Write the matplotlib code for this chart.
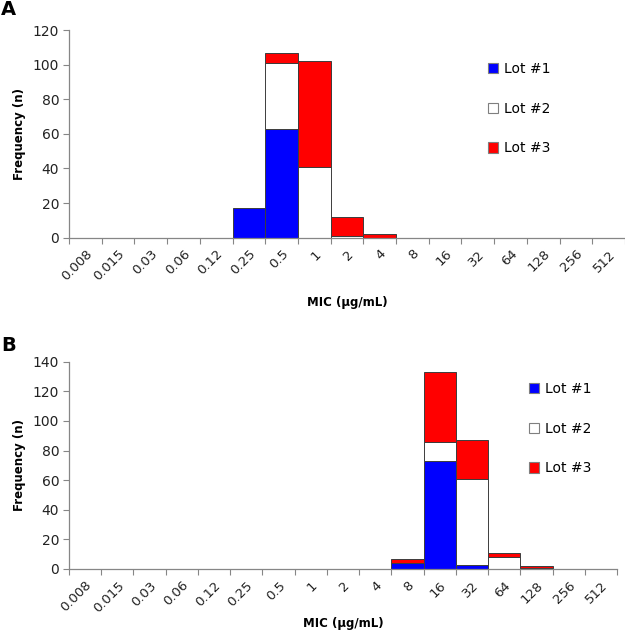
import matplotlib
matplotlib.use("Agg")
import matplotlib.pyplot as plt
from matplotlib.patches import Patch
import numpy as np

# ---- data ----
mic = ["0.008", "0.015", "0.03", "0.06", "0.12", "0.25", "0.5", "1",
       "2", "4", "8", "16", "32", "64", "128", "256", "512"]
lots = ["Lot #1", "Lot #2", "Lot #3"]

# panel A
a_lot1 = [0, 0, 0, 0, 0, 17, 63, 0, 0, 0, 0, 0, 0, 0, 0, 0, 0]
a_lot2 = [0, 0, 0, 0, 0, 0, 38, 41, 1, 0, 0, 0, 0, 0, 0, 0, 0]
a_lot3 = [0, 0, 0, 0, 0, 0, 6, 61, 11, 2, 0, 0, 0, 0, 0, 0, 0]

# panel B
b_lot1 = [0, 0, 0, 0, 0, 0, 0, 0, 0, 0, 4, 73, 3, 0, 0, 0, 0]
b_lot2 = [0, 0, 0, 0, 0, 0, 0, 0, 0, 0, 0, 13, 58, 8, 1, 0, 0]
b_lot3 = [0, 0, 0, 0, 0, 0, 0, 0, 0, 0, 3, 47, 26, 3, 1, 0, 0]

colors = ["#0000ff", "#ffffff", "#ff0000"]
EDGE = "#3c3c3c"
AXIS = "#868686"

fig = plt.figure(figsize=(6.25, 6.36), dpi=100)
fig.patch.set_facecolor("white")


def panel(rect, series, ymax, letter, letter_y, leg_xy, xpad):
    ax = fig.add_axes(rect)
    x = np.arange(len(mic))
    bottom = np.zeros(len(mic))
    for vals, c in zip(series, colors):
        vals = np.array(vals, dtype=float)
        mask = vals > 0
        ax.bar(x[mask], vals[mask], width=1.0, bottom=bottom[mask], color=c,
               edgecolor=EDGE, linewidth=0.7, zorder=2)
        bottom += vals
    ax.set_xlim(-0.5, len(mic) - 0.5)
    ax.set_ylim(0, ymax)
    ax.set_yticks(np.arange(0, ymax + 1, 20))
    ax.tick_params(axis="y", direction="out", length=4, width=0.8, color=AXIS,
                   labelsize=10, labelcolor="#222222", pad=3)
    # category boundaries carry the tick marks, centres carry the labels
    ax.set_xticks(np.arange(-0.5, len(mic), 1.0))
    ax.set_xticklabels([])
    ax.set_xticks(x, minor=True)
    ax.set_xticklabels(mic, minor=True, rotation=45, ha="right",
                       va="top", rotation_mode="anchor")
    ax.tick_params(axis="x", which="major", direction="out", length=4,
                   width=0.8, color=AXIS)
    ax.tick_params(axis="x", which="minor", length=0, labelsize=9.5,
                   labelcolor="#222222", pad=7)
    for sp in ["top", "right"]:
        ax.spines[sp].set_visible(False)
    for sp in ["left", "bottom"]:
        ax.spines[sp].set_color(AXIS)
        ax.spines[sp].set_linewidth(0.9)
    ax.set_ylabel("Frequency (n)", fontsize=8.5, fontweight="bold", labelpad=5)
    ax.set_xlabel("MIC (µg/mL)", fontsize=8.5, fontweight="bold", labelpad=xpad)
    fig.text(0.002, letter_y, letter, fontsize=14, fontweight="bold",
             va="top", ha="left")
    handles = [Patch(facecolor=c, edgecolor="#7f7f7f", linewidth=0.8)
               for c in colors]
    fig.legend(handles, lots, loc="upper left", bbox_to_anchor=leg_xy,
               frameon=False, fontsize=10, handlelength=0.75,
               handleheight=0.75, handletextpad=0.4, labelspacing=1.85,
               borderpad=0, borderaxespad=0)
    return ax


panel([69 / 625, 1 - 237.7 / 636, 556 / 625, 207.7 / 636],
      [a_lot1, a_lot2, a_lot3], 120, "A", 1.0, (488 / 625, 1 - 62 / 636), 9)
panel([69 / 625, 1 - 569 / 636, 548 / 625, 207.3 / 636],
      [b_lot1, b_lot2, b_lot3], 140, "B", 1 - 336 / 636, (529 / 625, 1 - 382 / 636), 2)

fig.savefig("out.png", dpi=100, facecolor="white")
